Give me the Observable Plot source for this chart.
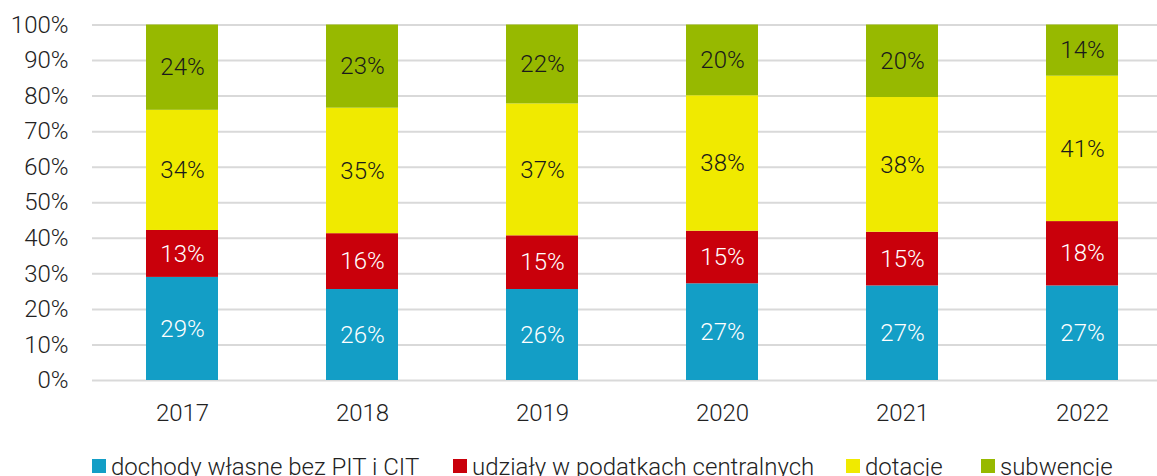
<!DOCTYPE html>
<html>
<head>
<meta charset="utf-8">
<script src="https://cdn.jsdelivr.net/npm/d3@7"></script>
<script src="https://cdn.jsdelivr.net/npm/@observablehq/plot@0.6"></script>
<style>
  html, body { margin: 0; padding: 0; background: #fff; overflow: hidden; }
  #wrap { position: relative; width: 1157px; height: 476px; font-family: Roboto, "Liberation Sans", sans-serif; font-weight: 300; }
  .leg { position: absolute; top: 453px; font-size: 24px; line-height: 28px; color: #222; white-space: nowrap; }
  .sw { position: absolute; width: 14px; height: 14px; top: 459px; }
</style>
</head>
<body>
<div id="wrap"></div>
<script>
const years = ["2017", "2018", "2019", "2020", "2021", "2022"];
const categories = ["dochody własne bez PIT i CIT", "udziały w podatkach centralnych", "dotacje", "subwencje"];
const colors = ["#139ec6", "#c9000b", "#f0ea00", "#97b900"];
const labelColors = ["#ffffff", "#ffffff", "#1a1a1a", "#1a1a1a"];
const dochodyWlasne = [29.0, 25.6, 25.6, 27.2, 26.6, 26.6];
const udzialy = [13.2, 15.7, 15.1, 14.8, 15.1, 18.1];
const dotacje = [33.8, 35.3, 37.1, 38.1, 37.9, 40.9];
const subwencje = [24.0, 23.4, 22.2, 19.9, 20.4, 14.4];
const yTicks = [0, 10, 20, 30, 40, 50, 60, 70, 80, 90, 100];

const series = [dochodyWlasne, udzialy, dotacje, subwencje];
const data = [];
years.forEach((yr, i) => {
  series.forEach((s, k) => {
    data.push({year: yr, cat: categories[k], value: s[i], order: k, label: Math.round(s[i]) + "%", lc: labelColors[k]});
  });
});

const chart = Plot.plot({
  width: 1157,
  height: 440,
  marginTop: 24.5,
  marginBottom: 60,
  marginLeft: 92,
  marginRight: 0,
  style: {fontFamily: "Roboto, 'Liberation Sans', sans-serif", fontSize: "24px", fontWeight: 300, color: "#222", background: "transparent"},
  x: {domain: years, range: [92, 1172], paddingInner: 0.6, paddingOuter: 0.3, label: null},
  y: {domain: [0, 100], range: [380, 24.5], label: null},
  color: {domain: categories, range: colors},
  marks: [
    Plot.ruleY(yTicks, {stroke: "#d9d9d9", strokeWidth: 2}),
    Plot.barY(data, {x: "year", y: "value", fill: "cat", order: "order"}),
    Plot.text(data, Plot.stackY({x: "year", y: "value", z: "cat", order: "order", text: "label", fill: "lc", fontSize: 24, fontWeight: 300})),
    Plot.axisY(yTicks, {tickSize: 0, tickPadding: 24, tickFormat: d => d + "%", fontSize: 24, fontWeight: 300, fill: "#222"}),
    Plot.axisX({tickSize: 0, tickPadding: 23, fontSize: 24, fontWeight: 300, fill: "#222", label: null})
  ]
});
const wrap = document.getElementById("wrap");
wrap.appendChild(chart);

const legendX = [92, 453, 846, 981];
categories.forEach((c, k) => {
  const sw = document.createElement("div");
  sw.className = "sw";
  sw.style.left = legendX[k] + "px";
  sw.style.background = colors[k];
  wrap.appendChild(sw);
  const t = document.createElement("div");
  t.className = "leg";
  t.style.left = (legendX[k] + 19) + "px";
  t.textContent = c;
  wrap.appendChild(t);
});
</script>
</body>
</html>
